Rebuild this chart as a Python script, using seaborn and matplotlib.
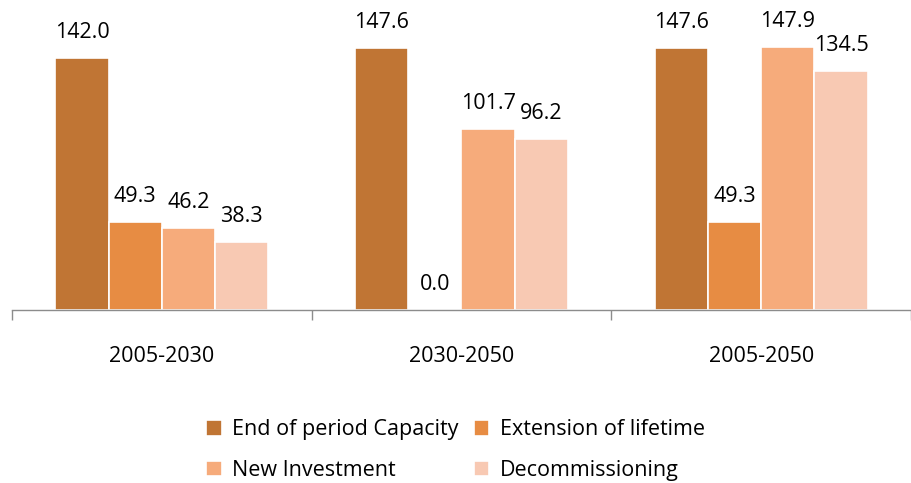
import matplotlib
matplotlib.use("Agg")
import matplotlib.pyplot as plt
import seaborn as sns
import pandas as pd

periods = ["2005-2030", "2030-2050", "2005-2050"]
series = ["End of period Capacity", "Extension of lifetime", "New Investment", "Decommissioning"]
end_capacity = [142.0, 147.6, 147.6]
extension = [49.3, 0.0, 49.3]
new_investment = [46.2, 101.7, 147.9]
decommissioning = [38.3, 96.2, 134.5]
colors = ["#C07534", "#E78C43", "#F6AB7B", "#F8C9B3"]

rows = []
for name, vals in zip(series, [end_capacity, extension, new_investment, decommissioning]):
    for p, v in zip(periods, vals):
        rows.append({"Period": p, "Series": name, "Value": v})
df = pd.DataFrame(rows)

sns.set_style("white")
plt.rcParams["font.family"] = ["Open Sans", "DejaVu Sans"]
plt.rcParams["text.color"] = "black"
plt.rcParams["xtick.labelcolor"] = "black"

fig = plt.figure(figsize=(9.11, 4.83), dpi=100)
ax = fig.add_axes([12 / 911, 1 - 310 / 483, 1 - 12 / 911, 310 / 483])

sns.barplot(data=df, x="Period", y="Value", hue="Series", order=periods,
            hue_order=series, palette=colors, width=0.71, ax=ax,
            saturation=1, edgecolor="white", linewidth=1.2, legend=True)

for cont in ax.containers:
    ax.bar_label(cont, fmt="%.1f", padding=11, fontsize=15.5, color="black")

ax.set_xlim(-0.5, 2.5)
ax.set_ylim(0, 174.6)
ax.set_xlabel("")
ax.set_ylabel("")
ax.set_yticks([])
for s in ["left", "right", "top"]:
    ax.spines[s].set_visible(False)
ax.spines["bottom"].set_color("#8c8c8c")
ax.spines["bottom"].set_linewidth(1.0)

ax.set_xticks([0, 1, 2])
ax.set_xticklabels(periods)
ax.set_xticks([-0.5, 0.5, 1.5, 2.5], minor=True)
ax.tick_params(axis="x", which="major", length=0, pad=26, labelsize=15.5,
               labelcolor="black")
ax.tick_params(axis="x", which="minor", length=7, width=1.0, color="#8c8c8c",
               direction="out", bottom=True)

handles, labels = ax.get_legend_handles_labels()
ax.get_legend().remove()
order = [0, 2, 1, 3]
fig.legend([handles[i] for i in order], [labels[i] for i in order],
           loc="upper center", bbox_to_anchor=(0.5, 1 - 400 / 483), ncol=2,
           frameon=False, fontsize=15.5, handlelength=0.72, handleheight=0.72,
           handletextpad=0.5, columnspacing=0.7, labelspacing=0.9,
           labelcolor="black")

fig.savefig("out.png", dpi=100)
